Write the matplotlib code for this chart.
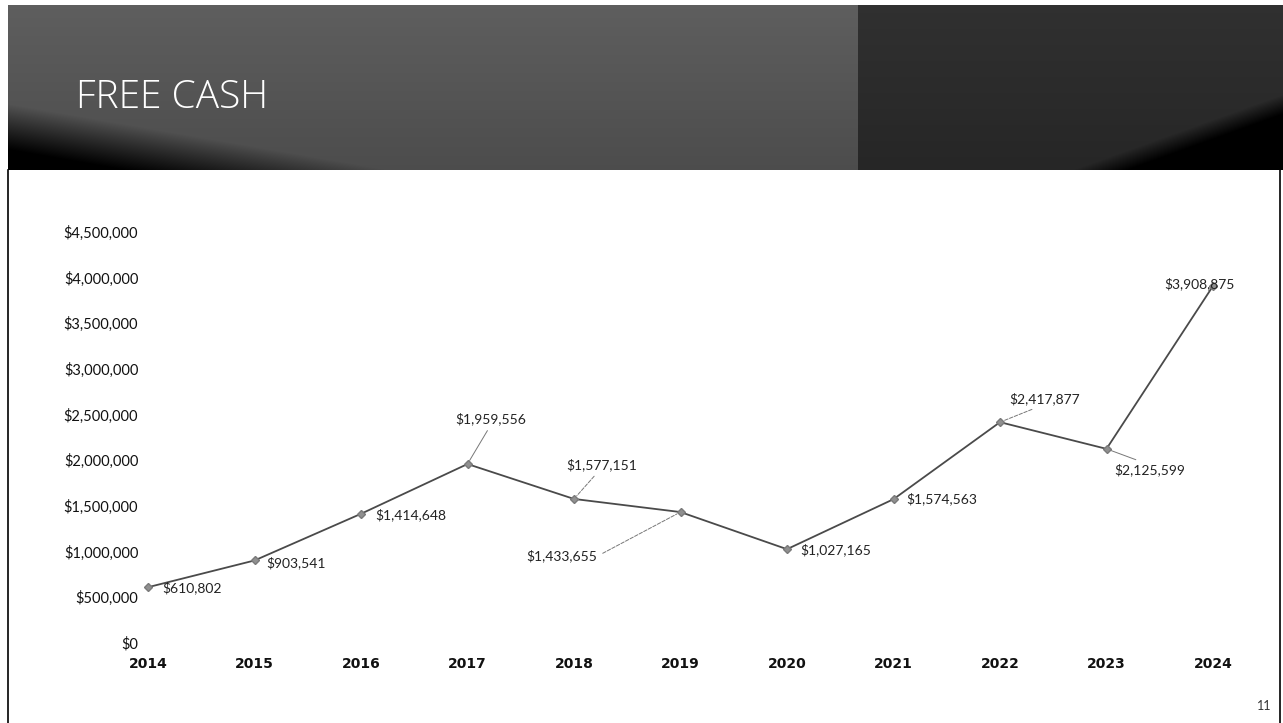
import numpy as np
import matplotlib
matplotlib.use("Agg")
import matplotlib.pyplot as plt
from matplotlib.lines import Line2D

# ---- data ----
years = [2014, 2015, 2016, 2017, 2018, 2019, 2020, 2021, 2022, 2023, 2024]
values = [610802, 903541, 1414648, 1959556, 1577151, 1433655, 1027165,
          1574563, 2417877, 2125599, 3908875]
labels = ["$610,802", "$903,541", "$1,414,648", "$1,959,556", "$1,577,151",
          "$1,433,655", "$1,027,165", "$1,574,563", "$2,417,877",
          "$2,125,599", "$3,908,875"]
yticks = [0, 500000, 1000000, 1500000, 2000000, 2500000, 3000000,
          3500000, 4000000, 4500000]
title = "FREE CASH"

W, H = 1283, 723
fig = plt.figure(figsize=(W / 100, H / 100), dpi=100)
fig.patch.set_facecolor("white")

def fx(px):
    return px / W

def fy(py):
    return 1 - py / H

# ---- header band ----
hx0, hx1, hy0, hy1 = 8, 1283, 5, 170
hw, hh = hx1 - hx0, hy1 - hy0
xx, yy = np.meshgrid(np.linspace(0, 1, hw), np.linspace(0, 1, hh))
img = np.zeros((hh, hw))
split = (858 - hx0) / hw
left = xx < split
u = xx / split
base_l = 0.37 - 0.07 * yy
dark_l = np.clip((yy - 0.6 - 0.9 * u) / 0.28, 0, 1)
img[left] = (base_l * (1 - dark_l))[left]
v = (xx - split) / (1 - split)
base_r = 0.15 + 0.04 * (1 - yy)
dark_r = np.clip((yy - 1 + 0.93 * (v - 0.51)) / 0.12, 0, 1)
img[~left] = (base_r * (1 - dark_r))[~left]
hax = fig.add_axes([fx(hx0), fy(hy1), fx(hw), hh / H])
hax.imshow(np.dstack([img] * 3), aspect="auto", interpolation="bilinear")
hax.axis("off")
fig.text(fx(76), fy(108), title, color="white", fontsize=28,
         family="Open Sans", weight="light", ha="left", va="baseline")

# frame lines
fig.add_artist(Line2D([fx(8), fx(8)], [fy(170), 0], color="black", lw=1.2))
fig.add_artist(Line2D([fx(1280), fx(1280)], [fy(170), 0], color="black", lw=1.2))

# ---- chart ----
x0, x1 = 148, 1213
y0, y1 = 643, 232
ax = fig.add_axes([fx(x0), fy(y0), fx(x1 - x0), (y0 - y1) / H])
ax.set_xlim(years[0], years[-1])
ax.set_ylim(0, 4500000)
ax.plot(years, values, color="#4a4a4a", lw=1.3, zorder=2, clip_on=False)
ax.plot(years, values, ls="none", marker="D", ms=4.5, color="#909090",
        mec="#7a7a7a", zorder=3, clip_on=False)

ax.set_yticks(yticks)
ax.set_yticklabels(["$" + format(t, ",") for t in yticks],
                   fontsize=10.5, family="Lato", color="#111111")
ax.set_xticks(years)
ax.set_xticklabels([str(y) for y in years], fontsize=10, weight="bold",
                   family="DejaVu Sans", color="#111111")
ax.tick_params(axis="y", length=0, pad=7)
ax.tick_params(axis="x", length=0, pad=10)
for s in ax.spines.values():
    s.set_visible(False)
ax.patch.set_alpha(0)

# data labels: (dx, dy) offset in pixels, ha, leader style, relpos
specs = [
    (14, -1, "left", None, None),
    (12, -2, "left", None, None),
    (14, -1, "left", None, None),
    (23, 45, "center", "-", (0.5, 0)),
    (28, 34, "center", "--", (0.45, 0)),
    (-83, -44, "right", "--", (1, 0.5)),
    (13, -1, "left", None, None),
    (13, 0, "left", None, None),
    (45, 23, "center", "--", (0.45, 0)),
    (43, -21, "center", "-", (0.45, 1)),
    (-14, 2, "center", None, None),
]
for yr, val, lab, (dx, dy, ha, ls, rp) in zip(years, values, labels, specs):
    kw = {}
    if ls is not None:
        kw["arrowprops"] = dict(arrowstyle="-", color="#777777", lw=0.7,
                                ls=ls, shrinkA=2, shrinkB=3, relpos=rp)
    ax.annotate(lab, xy=(yr, val), xytext=(dx, dy), textcoords="offset pixels",
                ha=ha, va="center", fontsize=10, family="Lato",
                color="#222222", annotation_clip=False, zorder=4, **kw)

fig.text(fx(1264), fy(706), "11", fontsize=9, family="Lato",
         color="#333333", ha="center", va="center")

fig.savefig("out.png", dpi=100, facecolor="white")
